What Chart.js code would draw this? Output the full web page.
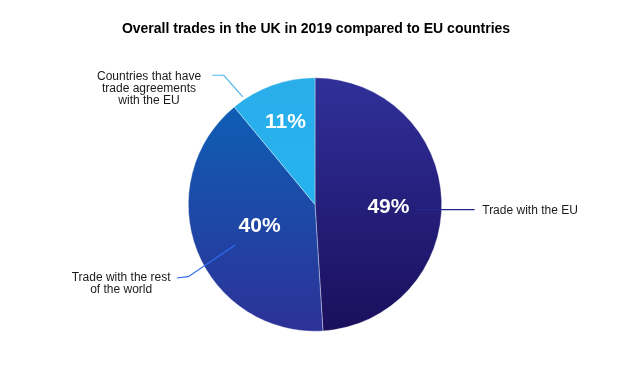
<!DOCTYPE html>
<html>
<head>
<meta charset="utf-8">
<script src="https://cdn.jsdelivr.net/npm/chart.js@4"></script>
<style>
  html, body { margin: 0; padding: 0; background: #fff; }
  #wrap { width: 640px; height: 375px; }
</style>
</head>
<body>
<div id="wrap"><canvas id="pie_chart" width="640" height="375"></canvas></div>
<script>
var chartTitle = 'Overall trades in the UK in 2019 compared to EU countries';
var categories = ['Trade with the EU', 'Trade with the rest of the world', 'Countries that have trade agreements with the EU'];
var shares = [49, 40, 11];
var labelLines = [
    ['Trade with the EU'],
    ['Trade with the rest', 'of the world'],
    ['Countries that have', 'trade agreements', 'with the EU']
];

// gradient stops per slice (top, bottom) and leader line colour
var topColors = ['#30309a', '#0a64b9', '#2aaeea'];
var bottomColors = ['#1a0f5c', '#2d3197', '#20b6f2'];
var lineColors = ['#1f2a8a', '#2f6df0', '#4fb6ec'];

// leader lines, in units of the pie radius from its centre
var callouts = [
    { pts: [[0.79, 0.04], [1.26, 0.04]], text: [1.32, 0.05], align: 'left' },
    { pts: [[-0.63, 0.32], [-1.0, 0.57], [-1.09, 0.58]], text: [-1.53, 0.58], align: 'center' },
    { pts: [[-0.57, -0.85], [-0.72, -1.02], [-0.81, -1.02]], text: [-1.31, -1.01], align: 'center' }
];
var pctRadius = [0.58, 0.47, 0.69];
var pctTurn = [0.07, 0, 0];

function sliceGradient(context) {
    var chart = context.chart;
    var area = chart.chartArea;
    if (!area) return topColors[context.dataIndex];
    var i = context.dataIndex;
    var g = chart.ctx.createLinearGradient(0, area.top, 0, area.bottom);
    g.addColorStop(0, topColors[i]);
    g.addColorStop(1, bottomColors[i]);
    return g;
}

var pieLabels = {
    id: 'pieLabels',
    afterDatasetsDraw: function (chart) {
        var ctx = chart.ctx;
        var arcs = chart.getDatasetMeta(0).data;
        ctx.save();
        arcs.forEach(function (arc, i) {
            var r = arc.outerRadius;
            var mid = (arc.startAngle + arc.endAngle) / 2 + pctTurn[i];
            // percentage inside the slice
            ctx.fillStyle = '#ffffff';
            ctx.font = 'bold 21px "Liberation Sans", Arial, sans-serif';
            ctx.textAlign = 'center';
            ctx.textBaseline = 'middle';
            ctx.fillText(shares[i] + '%', arc.x + Math.cos(mid) * r * pctRadius[i], arc.y + Math.sin(mid) * r * pctRadius[i]);

            // leader line
            var c = callouts[i];
            ctx.strokeStyle = lineColors[i];
            ctx.lineWidth = 1.2;
            ctx.beginPath();
            c.pts.forEach(function (p, k) {
                var px = arc.x + p[0] * r, py = arc.y + p[1] * r;
                if (k === 0) ctx.moveTo(px, py); else ctx.lineTo(px, py);
            });
            ctx.stroke();

            // category text
            ctx.fillStyle = '#1a1a1a';
            ctx.font = '12px "Liberation Sans", Arial, sans-serif';
            ctx.textAlign = c.align;
            var lh = 12;
            labelLines[i].forEach(function (line, k) {
                ctx.fillText(line, arc.x + c.text[0] * r, arc.y + c.text[1] * r + k * lh);
            });
        });

        ctx.fillStyle = '#000000';
        ctx.font = 'bold 14px "Liberation Sans", Arial, sans-serif';
        ctx.textAlign = 'center';
        ctx.fillText(chartTitle, 316, 29);
        ctx.restore();
    }
};

var ctx = document.getElementById('pie_chart').getContext('2d');
var myChart = new Chart(ctx, {
    type: 'pie',
    data: {
        labels: categories,
        datasets: [{
            data: shares,
            backgroundColor: sliceGradient,
            borderColor: 'rgba(255,255,255,0.6)',
            borderWidth: 0.6
        }]
    },
    options: {
        responsive: false,
        animation: false,
        layout: {
            padding: { top: 77, bottom: 43, left: 188, right: 198 }
        },
        plugins: {
            legend: { display: false },
            tooltip: { enabled: false },
            title: { display: false }
        }
    },
    plugins: [pieLabels]
});
</script>
</body>
</html>
